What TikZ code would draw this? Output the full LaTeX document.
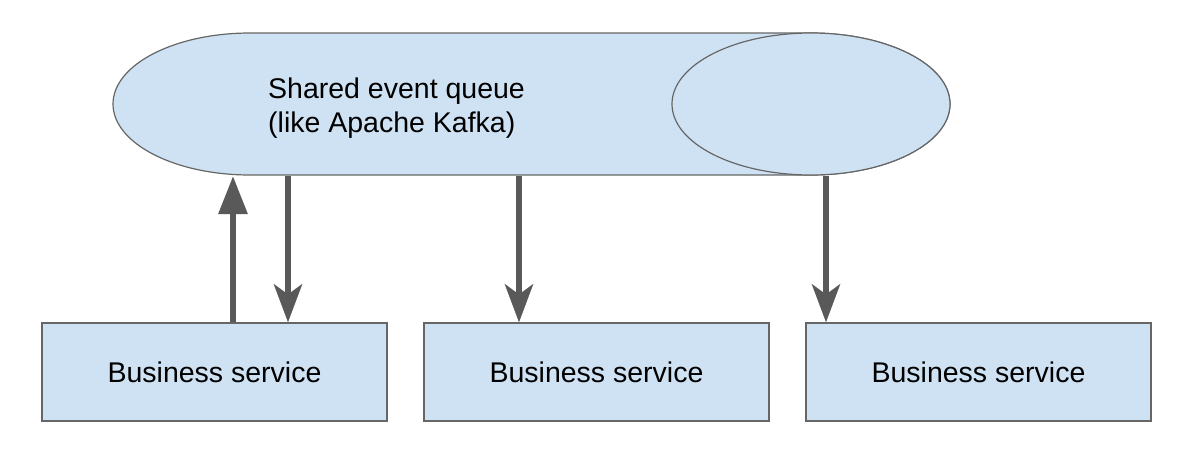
\documentclass[tikz,border=0pt]{standalone}
\usepackage{fontspec}
\setmainfont{Liberation Sans}
\usetikzlibrary{arrows.meta}
\definecolor{qfill}{HTML}{CFE2F3}
\definecolor{qline}{HTML}{666666}
\definecolor{arr}{HTML}{595959}
\begin{document}
\begin{tikzpicture}[x=1pt,y=-1pt,
  svc/.style={rectangle,draw=qline,fill=qfill,line width=1.2pt,minimum width=345pt,minimum height=98pt,inner sep=0pt,font=\fontsize{28.5}{34}\selectfont},
  pub/.style={line width=6pt,draw=arr,-{Triangle[length=38pt,width=28pt]}},
  sub/.style={line width=6pt,draw=arr,-{Stealth[length=38pt,width=28pt,inset=10pt]}}]
  \useasboundingbox (0,0) rectangle (1186,448);
  % queue body: left cap, straight part, right end
  \draw[qline,fill=qfill,line width=1.2pt] (250,33) -- (811,33)
    arc[start angle=270,end angle=450,x radius=139,y radius=71]
    -- (250,175) arc[start angle=90,end angle=270,x radius=137,y radius=71] -- cycle;
  \draw[qline,fill=qfill,line width=1.2pt] (811,104) ellipse[x radius=139,y radius=71];
  \node[anchor=west,align=left,inner sep=0pt,font=\fontsize{28.5}{34}\selectfont] (queue) at (268,108) {Shared event queue\\(like Apache Kafka)};
  \node[svc] (b1) at (214.5,372) {Business service};
  \node[svc] (b2) at (596.5,372) {Business service};
  \node[svc] (b3) at (978.5,372) {Business service};

  \coordinate (in1) at (233,176);
  \coordinate (out1) at (288,176);
  \coordinate (out2) at (519,176);
  \coordinate (out3) at (826,176);

  \draw[pub] (b1.north -| in1) -- (in1);
  \draw[sub] (out1) -- (out1 |- b1.north);
  \draw[sub] (out2) -- (out2 |- b2.north);
  \draw[sub] (out3) -- (out3 |- b3.north);
\end{tikzpicture}
\end{document}
